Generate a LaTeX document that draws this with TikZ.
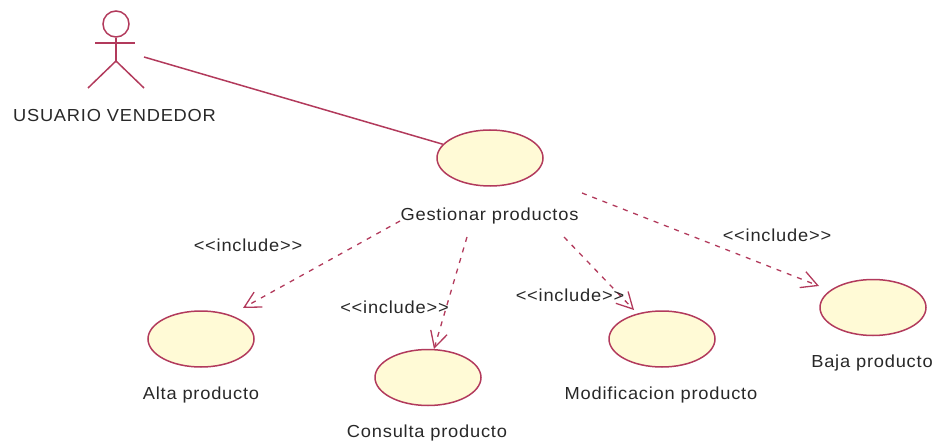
\documentclass[tikz,border=0pt]{standalone}
\usepackage{fontspec}
\setmainfont[LetterSpace=4.5,FakeStretch=1.05]{Liberation Sans}
\usetikzlibrary{arrows.meta,shapes.geometric}
\definecolor{umlline}{RGB}{178,58,92}
\definecolor{umlfill}{RGB}{255,250,214}
\definecolor{umltext}{RGB}{40,40,40}
\tikzset{
  usecase/.style={ellipse,draw=umlline,fill=umlfill,line width=1.5pt,minimum width=106pt,minimum height=56pt,inner sep=0pt},
  lbl/.style={text=umltext,font=\fontsize{17.4}{20}\selectfont,inner sep=0pt},
  incl/.style={draw=umlline,line width=1.3pt,dash pattern=on 5pt off 6pt,-{Straight Barb[length=16pt,width=17pt,line width=1.3pt]}},
  assoc/.style={draw=umlline,line width=1.5pt},
  actorline/.style={draw=umlline,line width=1.5pt}
}
\begin{document}
\begin{tikzpicture}[x=1pt,y=-1pt]
\useasboundingbox (0,0) rectangle (935,441);
% actor
\node[circle,draw=umlline,line width=1.5pt,minimum size=26pt,inner sep=0pt] (head) at (116,24) {};
\coordinate (hip) at (116,61);
\coordinate (armL) at (95,43);
\coordinate (armR) at (135,43);
\coordinate (footL) at (88,88);
\coordinate (footR) at (144,88);
\draw[actorline] (head.south) -- (hip);
\draw[actorline] (armL) -- (armR);
\draw[actorline] (footL) -- (hip) -- (footR);
\node[lbl] (actorlabel) at (114.5,115.5) {USUARIO VENDEDOR};
% use cases
\node[usecase] (gest) at (490,158) {};
\node[usecase] (alta) at (201,339) {};
\node[usecase] (cons) at (428,377.5) {};
\node[usecase] (modi) at (662,339) {};
\node[usecase] (baja) at (873,307.5) {};
\node[lbl] (gestl) at (489.5,216) {Gestionar productos};
\node[lbl] (altal) at (201,395) {Alta producto};
\node[lbl] (consl) at (427,433) {Consulta producto};
\node[lbl] (modil) at (661,394.5) {Modificacion producto};
\node[lbl] (bajal) at (872,363) {Baja producto};
% connectors
\coordinate (actorend) at (144,57);
\coordinate (s1) at (400,221);
\coordinate (s2) at (467,237);
\coordinate (s3) at (564,237);
\coordinate (s4) at (582,193);
\coordinate (t1) at (243,308);
\coordinate (t2) at (434,349);
\coordinate (t3) at (634,310);
\coordinate (t4) at (819,286);
\draw[assoc] (actorend) -- (gest);
\draw[incl] (s1) -- (t1);
\draw[incl] (s2) -- (t2);
\draw[incl] (s3) -- (t3);
\draw[incl] (s4) -- (t4);
\node[lbl] (i1) at (248,245) {<{}<include>{}>};
\node[lbl] (i2) at (394.5,307) {<{}<include>{}>};
\node[lbl] (i3) at (570,295) {<{}<include>{}>};
\node[lbl] (i4) at (777,235) {<{}<include>{}>};
\end{tikzpicture}
\end{document}
